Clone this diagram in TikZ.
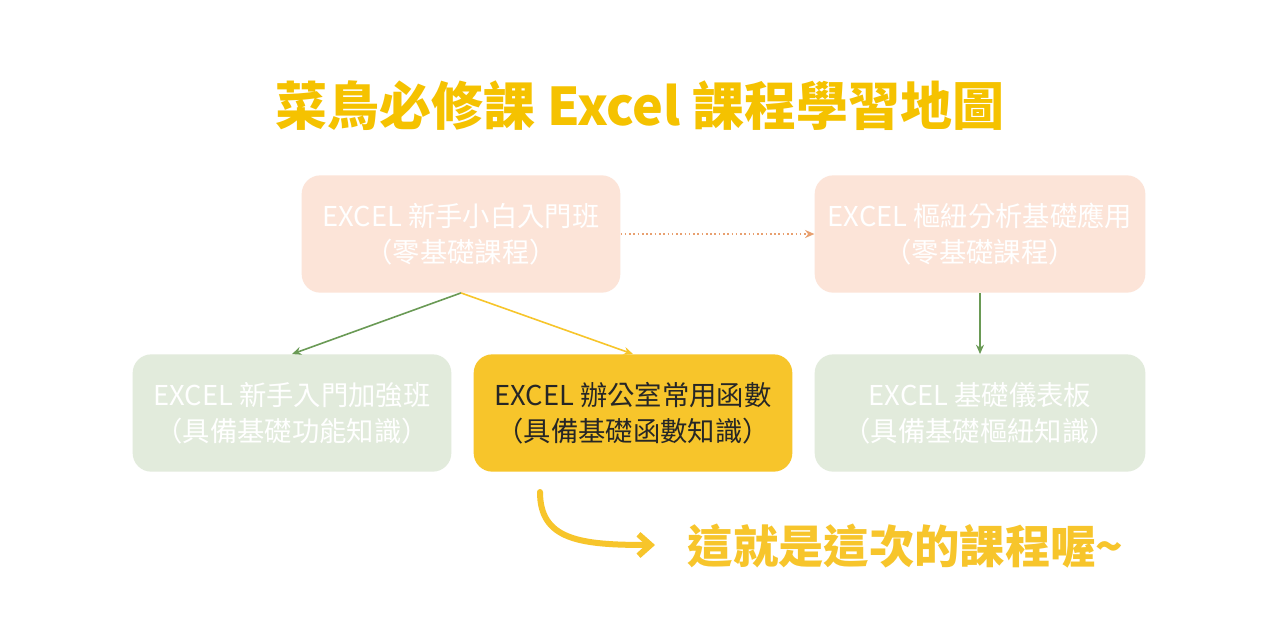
\documentclass[tikz,border=0pt]{standalone}
\usepackage{fontspec}
\setmainfont{Noto Sans CJK TC}
\usetikzlibrary{arrows.meta}
\definecolor{peach}{HTML}{FCE4D8}
\definecolor{sage}{HTML}{E2EBDC}
\definecolor{gold}{HTML}{F7C52B}
\definecolor{titleY}{HTML}{F5C200}
\definecolor{arrG}{HTML}{6A9A55}
\definecolor{arrO}{HTML}{E8A070}
\begin{document}
\begin{tikzpicture}[x=0.75pt,y=-0.75pt,
  box/.style={rounded corners=14pt,minimum width=239pt,minimum height=88pt,align=center,inner sep=0pt,font=\fontsize{20.5pt}{27pt}\selectfont},
  pbox/.style={box,fill=peach,text=white},
  gbox/.style={box,fill=sage,text=white},
  ybox/.style={box,fill=gold,text=black!85},
  conn/.style={-{Stealth[length=7pt,width=6pt]},line width=1.2pt}]
\useasboundingbox (0,0) rectangle (1280,640);
\fill[white] (0,0) rectangle (1280,640);
\node[font=\fontsize{39pt}{42pt}\selectfont\bfseries,text=titleY] (title) at (640,106) {菜鳥必修課 Excel 課程學習地圖};
\node[pbox] (a) at (461,234) {EXCEL 新手小白入門班\\（零基礎課程）};
\node[pbox,minimum width=248pt] (b) at (980,234) {EXCEL 樞紐分析基礎應用\\（零基礎課程）};
\node[gbox] (c) at (292,413) {EXCEL 新手入門加強班\\（具備基礎功能知識）};
\node[ybox] (d) at (633,413) {EXCEL 辦公室常用函數\\（具備基礎函數知識）};
\node[gbox,minimum width=248pt] (e) at (980,413) {EXCEL 基礎儀表板\\（具備基礎樞紐知識）};
\draw[conn,arrO,dotted,line width=1.5pt] (a.east) -- (b.west);
\draw[conn,arrG] (a.south) -- (c.north);
\draw[conn,gold] (a.south) -- (d.north);
\draw[conn,arrG] (b.south) -- (e.north);
\node[font=\fontsize{34pt}{38pt}\selectfont\bfseries,text=gold,anchor=west] (t) at (683,546) {這就是這次的課程喔\textasciitilde};
\coordinate (s) at (540,492);
\draw[gold,line width=4.5pt,line cap=round,line join=round,-{Straight Barb[length=9pt,width=16pt]}] (s) .. controls (540,540) and (580,545) .. (655,545);
\end{tikzpicture}
\end{document}
